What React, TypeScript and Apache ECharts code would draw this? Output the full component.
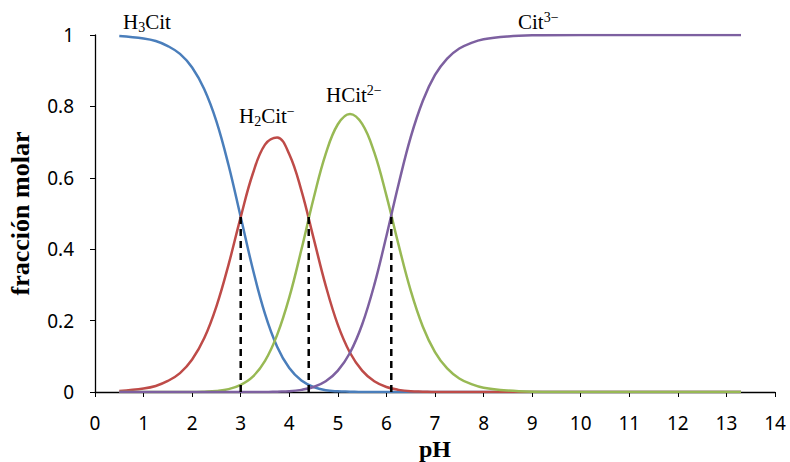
import React, { useEffect, useRef } from "react";
import * as echarts from "echarts";

// pH sampling points
const pH = [0.5, 1, 1.25, 1.5, 1.75, 2, 2.25, 2.5, 2.75, 3, 3.25, 3.5, 3.75, 4, 4.25, 4.5, 4.75, 5, 5.25, 5.5, 5.75, 6, 6.25, 6.5, 6.75, 7, 7.25, 7.5, 7.75, 8, 8.5, 9, 10, 11, 12, 13.3];
// molar fractions
const h3cit = [0.997, 0.99, 0.983, 0.969, 0.947, 0.909, 0.848, 0.758, 0.635, 0.49, 0.344, 0.219, 0.127, 0.067, 0.032, 0.014, 0.005, 0.002, 0.001, 0, 0, 0, 0, 0, 0, 0, 0, 0, 0, 0, 0, 0, 0, 0, 0, 0];
const h2cit = [0.003, 0.01, 0.017, 0.031, 0.053, 0.091, 0.151, 0.24, 0.357, 0.49, 0.612, 0.693, 0.713, 0.666, 0.564, 0.431, 0.298, 0.188, 0.11, 0.06, 0.03, 0.014, 0.006, 0.002, 0.001, 0, 0, 0, 0, 0, 0, 0, 0, 0, 0, 0];
const hcit = [0, 0, 0, 0, 0, 0, 0.001, 0.003, 0.008, 0.02, 0.043, 0.087, 0.16, 0.265, 0.399, 0.542, 0.667, 0.75, 0.779, 0.751, 0.671, 0.55, 0.412, 0.284, 0.183, 0.112, 0.066, 0.038, 0.022, 0.012, 0.004, 0.001, 0, 0, 0, 0];
const cit = [0, 0, 0, 0, 0, 0, 0, 0, 0, 0, 0, 0, 0.001, 0.002, 0.006, 0.014, 0.03, 0.06, 0.11, 0.189, 0.3, 0.437, 0.582, 0.714, 0.816, 0.888, 0.934, 0.962, 0.978, 0.988, 0.996, 0.999, 1, 1, 1, 1];
// dashed markers at pKa values
const pKa = [3.0, 4.4, 6.1];
const pKaTop = [0.49, 0.49, 0.49];

const speciesNames = ["H3Cit", "H2Cit-", "HCit2-", "Cit3-"];
const speciesData = [h3cit, h2cit, hcit, cit];
const colors = ["#4a7ebb", "#be4b48", "#98b954", "#7d60a0"];

const serif = "'Liberation Serif', 'Times New Roman', serif";
const sans = "'Noto Sans', 'Open Sans', sans-serif";

export default function App() {
  const ref = useRef<HTMLDivElement>(null);
  useEffect(() => {
    const chart = echarts.init(ref.current!, null, { renderer: "svg" });
    const main = { fontSize: 21, fontFamily: serif, color: "#000", lineHeight: 24 };
    const sub = { fontSize: 14, fontFamily: serif, color: "#000", verticalAlign: "bottom", lineHeight: 10 };
    const sup = { fontSize: 14, fontFamily: serif, color: "#000", verticalAlign: "top", lineHeight: 20 };
    const rich = { a: main, b: sub, p: sup };
    const label = (x: number, y: number, text: string) => ({
      type: "text",
      x,
      y,
      style: { text, rich, align: "left", verticalAlign: "middle", fill: "#000" },
    });
    const curveSeries = speciesData.map((arr, k) => ({
      name: speciesNames[k],
      type: "line",
      data: pH.map((x, i) => [x, arr[i]]),
      smooth: 0.4,
      showSymbol: false,
      lineStyle: { color: colors[k], width: 2.5 },
      z: 2,
    }));
    const dashSeries = pKa.map((p, k) => ({
      name: "pKa" + (k + 1),
      type: "line",
      data: [
        [p, 0],
        [p, pKaTop[k]],
      ],
      showSymbol: false,
      lineStyle: { color: "#000", width: 2.5, type: [7, 5] },
      z: 3,
    }));
    chart.setOption({
      animation: false,
      backgroundColor: "#fff",
      grid: { left: 95, right: 15, top: 35, bottom: 70, outerBoundsMode: "none", containLabel: false },
      xAxis: {
        type: "value",
        min: 0,
        max: 14,
        interval: 1,
        name: "pH",
        nameLocation: "middle",
        nameGap: 41,
        nameTextStyle: { fontFamily: serif, fontWeight: "bold", fontSize: 24, color: "#000" },
        axisLine: { lineStyle: { color: "#000", width: 1.3 } },
        axisTick: { show: true, length: 5, lineStyle: { color: "#000" } },
        axisLabel: { fontFamily: sans, fontSize: 19, color: "#000", margin: 21 },
        splitLine: { show: false },
      },
      yAxis: {
        type: "value",
        min: 0,
        max: 1,
        interval: 0.2,
        name: "fracción molar",
        nameLocation: "middle",
        nameGap: 62,
        nameTextStyle: { fontFamily: serif, fontWeight: "bold", fontSize: 26, color: "#000" },
        axisLine: { show: true, lineStyle: { color: "#000", width: 1.3 } },
        axisTick: { show: true, length: 5, lineStyle: { color: "#000" } },
        axisLabel: {
          fontFamily: sans,
          fontSize: 19,
          color: "#000",
          margin: 21,
          formatter: (v: number) => String(+v.toFixed(1)),
        },
        splitLine: { show: false },
      },
      series: [...curveSeries, ...dashSeries],
      graphic: [
        label(123, 22, "{a|H}{b|3}{a|Cit}"),
        label(239, 116, "{a|H}{b|2}{a|Cit}{p|−}"),
        label(326, 95, "{a|HCit}{p|2−}"),
        label(518, 22, "{a|Cit}{p|3−}"),
      ],
    });
    return () => chart.dispose();
  }, []);
  return <div ref={ref} style={{ position: "fixed", left: 0, top: 0, width: 790, height: 462 }} />;
}
